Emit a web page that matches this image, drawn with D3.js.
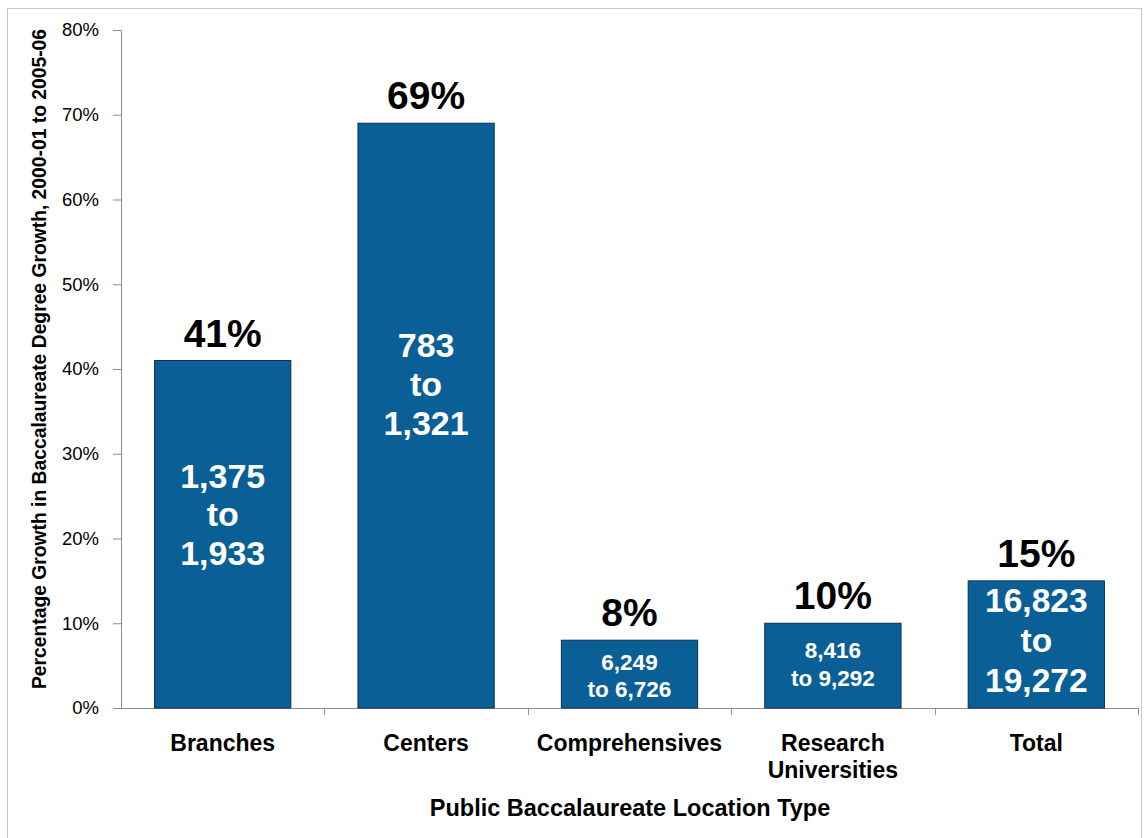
<!DOCTYPE html>
<html>
<head>
<meta charset="utf-8">
<script src="https://cdn.jsdelivr.net/npm/d3@7"></script>
<style>
  html, body { margin: 0; padding: 0; background: #fff; }
  svg { display: block; font-family: "Liberation Sans", Arial, sans-serif; }
</style>
</head>
<body>
<svg id="chart" width="1144" height="838"></svg>
<script>
// Baccalaureate degree growth by location type, 2000-01 to 2005-06
const categories = ["Branches", "Centers", "Comprehensives", "Research Universities", "Total"];
const categoryLines = [["Branches"], ["Centers"], ["Comprehensives"], ["Research", "Universities"], ["Total"]];
const growthPct = [41, 69, 8, 10, 15];
const degreeRanges = [
  ["1,375", "to", "1,933"],
  ["783", "to", "1,321"],
  ["6,249", "to 6,726"],
  ["8,416", "to 9,292"],
  ["16,823", "to", "19,272"]
];
const yTicks = [0, 10, 20, 30, 40, 50, 60, 70, 80];

const svg = d3.select("#chart");
const W = 1144, H = 838;
const margin = { left: 121, right: 6, top: 30, bottom: 130 };
const FONT = "'Liberation Sans', Arial, sans-serif";

// outer frame
svg.append("rect")
  .attr("x", 7.5).attr("y", 8.5)
  .attr("width", W - 10).attr("height", H)
  .attr("fill", "none").attr("stroke", "#c8c8c8").attr("stroke-width", 1);

const x = d3.scaleBand()
  .domain(categories)
  .range([margin.left, W - margin.right])
  .paddingInner(0.33)
  .paddingOuter(0.165);

const y = d3.scaleLinear()
  .domain([0, 80])
  .range([H - margin.bottom, margin.top]);

// y axis
const yAxis = svg.append("g")
  .attr("transform", `translate(${margin.left},0)`)
  .attr("font-family", FONT)
  .call(d3.axisLeft(y).tickValues(yTicks).tickFormat(d => d + "%").tickSize(8).tickPadding(14));
yAxis.attr("font-family", FONT);
yAxis.select(".domain").attr("stroke", "#8c8c8c");
yAxis.selectAll(".tick line").attr("stroke", "#8c8c8c");
yAxis.selectAll(".tick text")
  .attr("fill", "#000").attr("font-size", 18.5).attr("font-family", FONT);

// x axis baseline with separator ticks between categories
const x0 = x.range()[0], x1 = x.range()[1];
svg.append("line")
  .attr("x1", x0).attr("x2", x1)
  .attr("y1", y(0) + 0.5).attr("y2", y(0) + 0.5)
  .attr("stroke", "#8c8c8c");
const sepPositions = categories.map((c, i) => x0 + (i + 1) * (x1 - x0) / categories.length);
svg.selectAll("line.sep")
  .data(sepPositions)
  .join("line")
  .attr("class", "sep")
  .attr("x1", d => Math.round(d) + 0.5).attr("x2", d => Math.round(d) + 0.5)
  .attr("y1", y(0)).attr("y2", y(0) + 7)
  .attr("stroke", "#8c8c8c");

// bars
svg.selectAll("rect.bar")
  .data(categories)
  .join("rect")
  .attr("class", "bar")
  .attr("x", d => x(d))
  .attr("y", (d, i) => y(growthPct[i]))
  .attr("width", x.bandwidth())
  .attr("height", (d, i) => y(0) - y(growthPct[i]))
  .attr("fill", "#0b5f97")
  .attr("stroke", "#0a3150")
  .attr("stroke-width", 1);

// percentage labels above bars
svg.selectAll("text.pct")
  .data(categories)
  .join("text")
  .attr("class", "pct")
  .attr("x", d => x(d) + x.bandwidth() / 2)
  .attr("y", (d, i) => y(growthPct[i]) - 14)
  .attr("text-anchor", "middle")
  .attr("font-size", 39).attr("font-weight", "bold").attr("fill", "#000")
  .text((d, i) => growthPct[i] + "%");

// degree count ranges inside bars
const inner = [
  { size: 34, lh: 38.5, cy: 514 },
  { size: 34, lh: 39, cy: 384 },
  { size: 22.5, lh: 27, cy: 675.5 },
  { size: 22.5, lh: 28, cy: 664 },
  { size: 33.5, lh: 40, cy: 640 }
];
categories.forEach((c, i) => {
  const lines = degreeRanges[i];
  const cfg = inner[i];
  const n = lines.length;
  const t = svg.append("text")
    .attr("text-anchor", "middle")
    .attr("font-size", cfg.size).attr("font-weight", "bold").attr("fill", "#fff");
  lines.forEach((s, k) => {
    t.append("tspan")
      .attr("x", x(c) + x.bandwidth() / 2)
      .attr("y", cfg.cy + (k - (n - 1) / 2) * cfg.lh + cfg.size * 0.36)
      .text(s);
  });
});

// category labels
categories.forEach((c, i) => {
  const t = svg.append("text")
    .attr("text-anchor", "middle")
    .attr("font-size", 23).attr("font-weight", "bold").attr("fill", "#000");
  categoryLines[i].forEach((s, k) => {
    t.append("tspan")
      .attr("x", x(c) + x.bandwidth() / 2)
      .attr("y", 751 + k * 27)
      .text(s);
  });
});

// axis titles
svg.append("text")
  .attr("x", 630).attr("y", 816)
  .attr("text-anchor", "middle")
  .attr("font-size", 23.5).attr("font-weight", "bold").attr("fill", "#000")
  .text("Public Baccalaureate Location Type");

svg.append("text")
  .attr("transform", "translate(46,359) rotate(-90)")
  .attr("text-anchor", "middle")
  .attr("font-size", 19.3).attr("font-weight", "bold").attr("fill", "#000")
  .text("Percentage Growth in Baccalaureate Degree Growth, 2000-01 to 2005-06");
</script>
</body>
</html>
